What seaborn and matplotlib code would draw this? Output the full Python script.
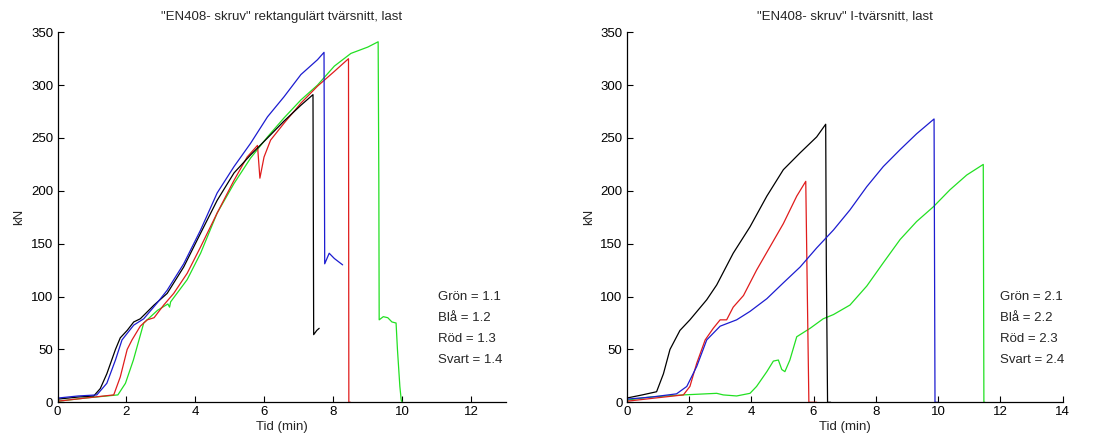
import numpy as np
import pandas as pd
import matplotlib
matplotlib.use("Agg")
import matplotlib.pyplot as plt
import seaborn as sns

# ---------------- data: left panel (rektangulärt tvärsnitt) ----------------
l_green_t = [0, 0.8, 1.75, 1.97, 2.2, 2.5, 2.9, 3.2, 3.25, 3.28, 3.76, 4.15, 4.63, 5.12, 5.6,
             6.09, 6.57, 7.06, 7.54, 8.03, 8.51, 9.0, 9.3, 9.32, 9.33, 9.45, 9.58, 9.7, 9.82,
             9.86, 9.93, 9.97, 10.0]
l_green_kN = [1, 4, 7, 18, 40, 75, 87, 93, 90, 95, 116, 141, 179, 207, 231,
              251, 269, 286, 300, 318, 330, 336, 341, 209, 78, 81, 80, 76, 75,
              50, 15, 2, 0]

l_blue_t = [0, 0.6, 1.14, 1.43, 1.68, 1.87, 2.21, 2.5, 2.89, 3.18, 3.66, 4.15, 4.63, 5.12, 5.6,
            6.09, 6.57, 7.06, 7.54, 7.73, 7.75, 7.88, 8.03, 8.27]
l_blue_kN = [4, 6, 7, 18, 40, 59, 73, 79, 94, 106, 131, 163, 198, 223, 245,
             270, 289, 310, 324, 331, 131, 141, 136, 130]

l_red_t = [0, 0.8, 1.63, 1.82, 2.02, 2.16, 2.4, 2.6, 2.8, 3.08, 3.37, 3.76, 4.15, 4.63, 5.12,
           5.5, 5.8, 5.87, 5.99, 6.18, 6.57, 7.06, 7.54, 8.03, 8.44, 8.45, 8.5]
l_red_kN = [1, 4, 7, 24, 50, 59, 72, 78, 80, 92, 103, 122, 147, 179, 210,
            232, 243, 212, 232, 248, 264, 283, 299, 313, 325, 0, 0]

l_black_t = [0, 0.6, 1.05, 1.24, 1.43, 1.68, 1.82, 2.02, 2.21, 2.4, 2.8, 3.18, 3.66, 4.15, 4.63,
             5.12, 5.6, 6.09, 6.57, 7.06, 7.41, 7.43, 7.52, 7.59]
l_black_kN = [3, 5, 6, 13, 27, 50, 61, 68, 76, 79, 92, 103, 128, 160, 191,
              217, 234, 250, 266, 281, 291, 64, 68, 70]

# ---------------- data: right panel (I-tvärsnitt) ----------------
r_green_t = [0, 0.75, 1.82, 2.89, 3.1, 3.53, 3.96, 4.17, 4.5, 4.71, 4.87, 4.98, 5.08, 5.24, 5.46,
             5.89, 6.31, 6.64, 7.17, 7.71, 8.24, 8.78, 9.31, 9.85, 10.38, 10.92, 11.45, 11.47, 11.5]
r_green_kN = [2, 5, 7, 8.5, 7, 6, 8.5, 15, 29, 39, 40, 31, 29, 40, 62,
              70, 79, 83, 92, 110, 132, 154, 171, 185, 201, 215, 225, 0, 0]

r_blue_t = [0, 0.8, 1.6, 1.93, 2.25, 2.57, 3.0, 3.53, 3.96, 4.5, 5.03, 5.57, 6.1, 6.64, 7.17,
            7.71, 8.24, 8.78, 9.31, 9.87, 9.9, 10.0]
r_blue_kN = [3, 5, 8, 15, 34, 59, 72, 78, 86, 98, 113, 128, 146, 163, 182,
             204, 223, 239, 254, 268, 0, 0]

r_red_t = [0, 0.9, 1.82, 2.03, 2.25, 2.52, 2.78, 3.0, 3.21, 3.42, 3.75, 4.17, 4.6, 5.03, 5.46,
           5.75, 5.8, 5.85, 6.1]
r_red_kN = [1, 4, 7, 15, 37, 59, 70, 78, 78, 90, 101, 125, 147, 169, 195,
            209, 103, 0, 0]

r_black_t = [0, 0.5, 0.96, 1.18, 1.39, 1.71, 2.03, 2.57, 2.89, 3.42, 3.96, 4.5, 5.03, 5.57, 6.1,
             6.39, 6.41, 6.45, 6.55]
r_black_kN = [4, 7, 10, 27, 50, 68, 78, 97, 111, 141, 166, 195, 220, 236, 251,
              263, 131, 0, 0]

left_labels = ["Grön = 1.1", "Blå = 1.2", "Röd = 1.3", "Svart = 1.4"]
right_labels = ["Grön = 2.1", "Blå = 2.2", "Röd = 2.3", "Svart = 2.4"]
titles = ['"EN408- skruv" rektangulärt tvärsnitt, last', '"EN408- skruv" I-tvärsnitt, last']

# ---------------- styling ----------------
sns.set_style("white")
plt.rcParams['font.family'] = ['Liberation Sans', 'DejaVu Sans']
plt.rcParams['font.size'] = 9.5

colors = {"green": "#22e022", "blue": "#1c1cd0", "red": "#e01c1c", "black": "#000000"}

fig = plt.figure(figsize=(10.96, 4.42), dpi=100)
axL = fig.add_axes([0.0525, 0.0898, 0.4089, 0.8372])
axR = fig.add_axes([0.5718, 0.0898, 0.3978, 0.8372])

left_series = [("green", l_green_t, l_green_kN), ("red", l_red_t, l_red_kN),
               ("black", l_black_t, l_black_kN), ("blue", l_blue_t, l_blue_kN)]
right_series = [("green", r_green_t, r_green_kN), ("red", r_red_t, r_red_kN),
                ("black", r_black_t, r_black_kN), ("blue", r_blue_t, r_blue_kN)]

for ax, series, xmax, labels, title, tx in [
        (axL, left_series, 13, left_labels, titles[0], 11.05),
        (axR, right_series, 14, right_labels, titles[1], 12.0)]:
    for cname, t, kn in series:
        df = pd.DataFrame({"t": t, "kN": kn})
        sns.lineplot(data=df, x="t", y="kN", ax=ax, sort=False, estimator=None,
                     color=colors[cname], linewidth=0.9)
    ax.set_xlim(0, xmax)
    ax.set_ylim(0, 350)
    ax.set_xticks(np.arange(0, xmax + 0.1, 2))
    ax.set_yticks(np.arange(0, 351, 50))
    ax.set_xlabel("Tid (min)", labelpad=2)
    ax.set_ylabel("kN", labelpad=4)
    ax.set_title(title, fontsize=9.5, pad=9)
    for s in ["top", "right"]:
        ax.spines[s].set_visible(False)
    for s in ["left", "bottom"]:
        ax.spines[s].set_color("black")
        ax.spines[s].set_linewidth(0.9)
    ax.tick_params(direction="in", length=4, width=0.8, colors="black", labelsize=9.5,
                   bottom=True, left=True, pad=3)
    for i, lab in enumerate(labels):
        ax.text(tx, 100 - i * 20, lab, fontsize=9.5, va="center", ha="left")

fig.savefig("out.png", dpi=100)
